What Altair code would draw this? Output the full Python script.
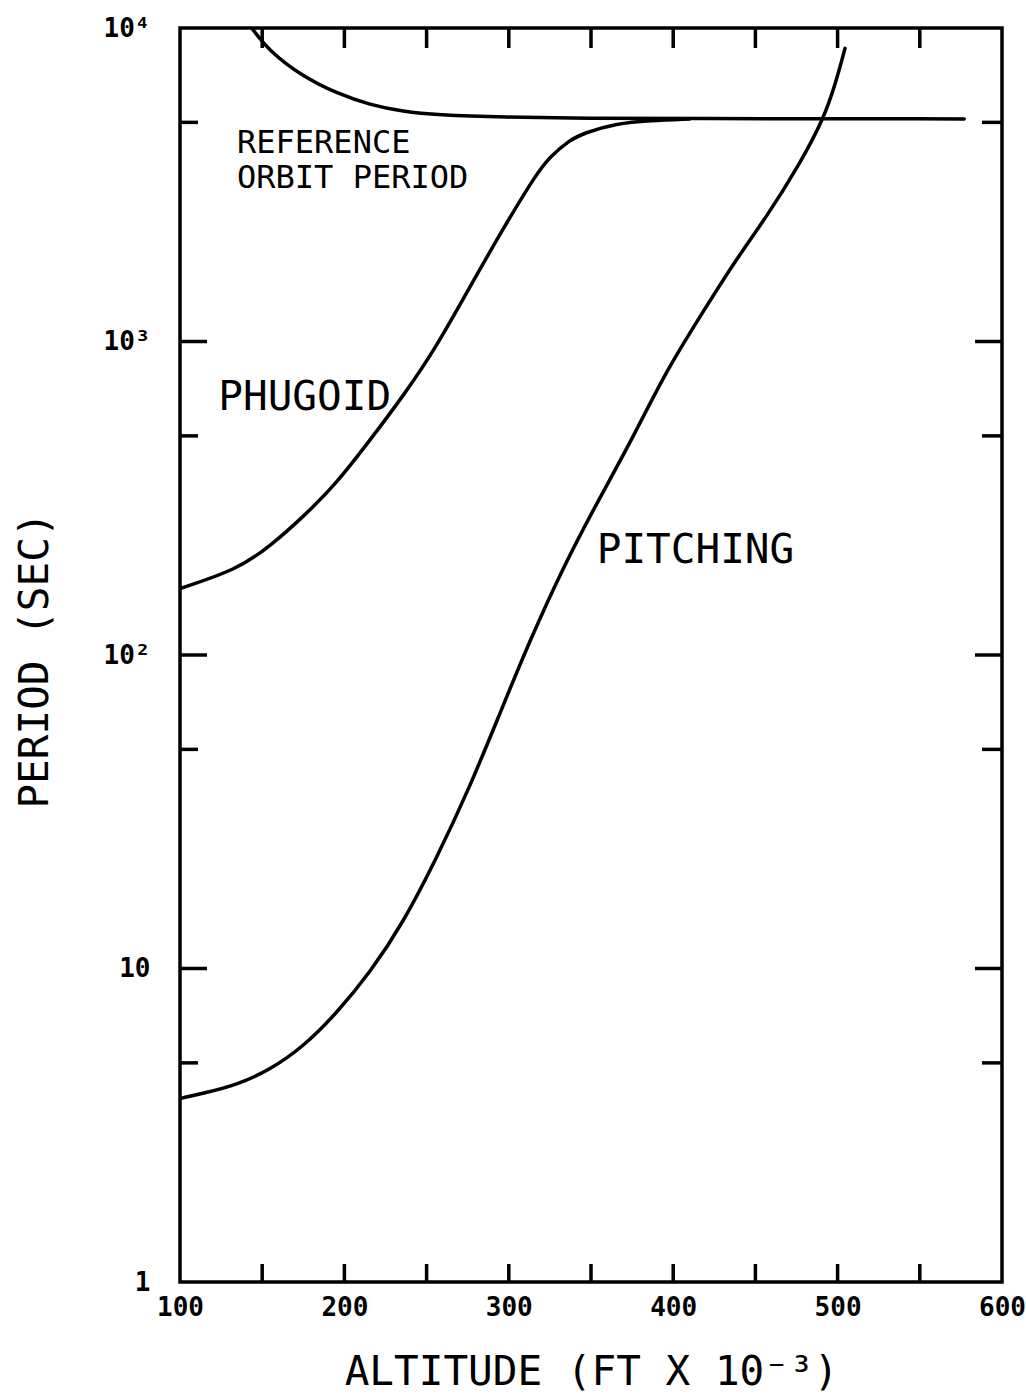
import altair as alt
import pandas as pd

# ---- data ----
ref_alt = [143.6, 154.7, 174.8, 195.3, 215.6, 235.7, 256.1, 296.5, 350, 400, 577]
ref_per = [10000, 8400, 7000, 6190, 5680, 5410, 5280, 5190, 5150, 5140, 5130]

phu_alt = [100, 134.5, 154.7, 175, 195.3, 215.6, 235.8, 256.1, 276.4, 296.7, 317, 325,
           337.2, 345.3, 365.6, 385.9, 410]
phu_per = [163, 187, 222, 276, 353, 485, 670, 963, 1496, 2300, 3440, 3886,
           4395, 4615, 4966, 5070, 5130]

pit_alt = [100, 114.2, 134.5, 154.7, 175, 195.3, 215.6, 235.8, 256.1, 276.4, 294.6,
           312.9, 333.2, 353.5, 373.7, 396, 416.3, 436.6, 456.9, 477.1, 491.3, 499.4, 504.5]
pit_per = [3.85, 4.0, 4.25, 4.75, 5.63, 7.2, 9.7, 14.0, 22.5, 38, 65.2,
           111.6, 191, 305, 473, 811, 1200, 1776, 2500, 3701, 5088, 6825, 8612]

x_tick_labels = [100, 200, 300, 400, 500, 600]
y_tick_labels = [1, 10, 100, 1000, 10000]
x_inner_ticks = [150, 200, 250, 300, 350, 400, 450, 500, 550]
y_major_ticks = [10, 100, 1000]
y_minor_ticks = [5, 50, 500, 5000]

ref_label = "REFERENCE\nORBIT PERIOD"
ref_label_x = [134.7]
ref_label_y = [3985]

labels_text = ["PHUGOID", "PITCHING"]
labels_x = [123.3, 353.5]
labels_y = [605, 197]

W, H = 822, 1254
FONT = "DejaVu Sans Mono"
LW = 3.5

curves = pd.concat([
    pd.DataFrame({"alt": ref_alt, "per": ref_per, "curve": "ref"}),
    pd.DataFrame({"alt": phu_alt, "per": phu_per, "curve": "phugoid"}),
    pd.DataFrame({"alt": pit_alt, "per": pit_per, "curve": "pitching"}),
])

xscale = alt.Scale(domain=[100, 600], nice=False, zero=False)
yscale = alt.Scale(type="log", domain=[1, 10000], nice=False)

label_expr = ("datum.value == 1 ? '1' : datum.value == 10 ? '10' : datum.value == 100 ? '10²' : "
              "datum.value == 1000 ? '10³' : '10⁴'")

xaxis = alt.Axis(values=x_tick_labels, format="d", ticks=False, domain=False, grid=False,
                 labelFlush=False, labelOverlap=False,
                 labelFont=FONT, labelFontSize=26, labelFontWeight="bold", labelColor="black",
                 labelPadding=12, title="ALTITUDE (FT X 10⁻³)", titleFont=FONT,
                 titleFontSize=41, titleFontWeight="normal", titleColor="black",
                 titleX=W / 2, titleY=90, titleBaseline="middle", titleAlign="center")
yaxis = alt.Axis(values=y_tick_labels, labelExpr=label_expr, ticks=False, domain=False,
                 labelFlush=False, labelOverlap=False,
                 grid=False, labelFont=FONT, labelFontSize=26, labelFontWeight="bold",
                 labelColor="black", labelPadding=30, title="PERIOD (SEC)", titleFont=FONT,
                 titleFontSize=41, titleFontWeight="normal", titleColor="black",
                 titleX=-145, titleY=H / 2 + 5, titleAngle=270, titleBaseline="middle",
                 titleAlign="center")

lines = alt.Chart(curves).mark_line(color="black", strokeWidth=LW, interpolate="basis",
                                    clip=True, strokeCap="round").encode(
    x=alt.X("alt:Q", scale=xscale, axis=xaxis),
    y=alt.Y("per:Q", scale=yscale, axis=yaxis),
    detail="curve:N",
)

xt = pd.DataFrame({"alt": x_inner_ticks})
bottom_ticks = alt.Chart(xt).mark_rule(color="black", strokeWidth=LW).encode(
    x=alt.X("alt:Q", scale=xscale), y=alt.value(H), y2=alt.value(H - 18))
top_ticks = alt.Chart(xt).mark_rule(color="black", strokeWidth=LW).encode(
    x=alt.X("alt:Q", scale=xscale), y=alt.value(0), y2=alt.value(20))

ymaj = pd.DataFrame({"per": y_major_ticks})
ymin = pd.DataFrame({"per": y_minor_ticks})
left_major = alt.Chart(ymaj).mark_rule(color="black", strokeWidth=LW).encode(
    y=alt.Y("per:Q", scale=yscale), x=alt.value(0), x2=alt.value(27))
left_minor = alt.Chart(ymin).mark_rule(color="black", strokeWidth=LW).encode(
    y=alt.Y("per:Q", scale=yscale), x=alt.value(0), x2=alt.value(18))
right_major = alt.Chart(ymaj).mark_rule(color="black", strokeWidth=LW).encode(
    y=alt.Y("per:Q", scale=yscale), x=alt.value(W), x2=alt.value(W - 27))
right_minor = alt.Chart(ymin).mark_rule(color="black", strokeWidth=LW).encode(
    y=alt.Y("per:Q", scale=yscale), x=alt.value(W), x2=alt.value(W - 20))

ref_df = pd.DataFrame({"t": [ref_label], "alt": ref_label_x, "per": ref_label_y})
ref_text = alt.Chart(ref_df).mark_text(font=FONT, color="black", align="left",
                                       baseline="alphabetic", fontSize=32,
                                       lineBreak="\n", lineHeight=35).encode(
    x=alt.X("alt:Q", scale=xscale), y=alt.Y("per:Q", scale=yscale), text="t:N")

ann = pd.DataFrame({"t": labels_text, "alt": labels_x, "per": labels_y})
texts = alt.Chart(ann).mark_text(font=FONT, color="black", align="left",
                                 baseline="alphabetic", fontSize=41).encode(
    x=alt.X("alt:Q", scale=xscale), y=alt.Y("per:Q", scale=yscale), text="t:N")

chart = alt.layer(lines, bottom_ticks, top_ticks, left_major, left_minor, right_major,
                  right_minor, ref_text, texts).properties(
    width=W, height=H,
    autosize=alt.AutoSizeParams(type="none"),
    padding={"left": 180, "top": 28, "right": 24, "bottom": 115},
    background="white",
).configure_view(stroke="black", strokeWidth=LW)

chart.save("out.html", embed_options={"renderer": "svg", "actions": False})
